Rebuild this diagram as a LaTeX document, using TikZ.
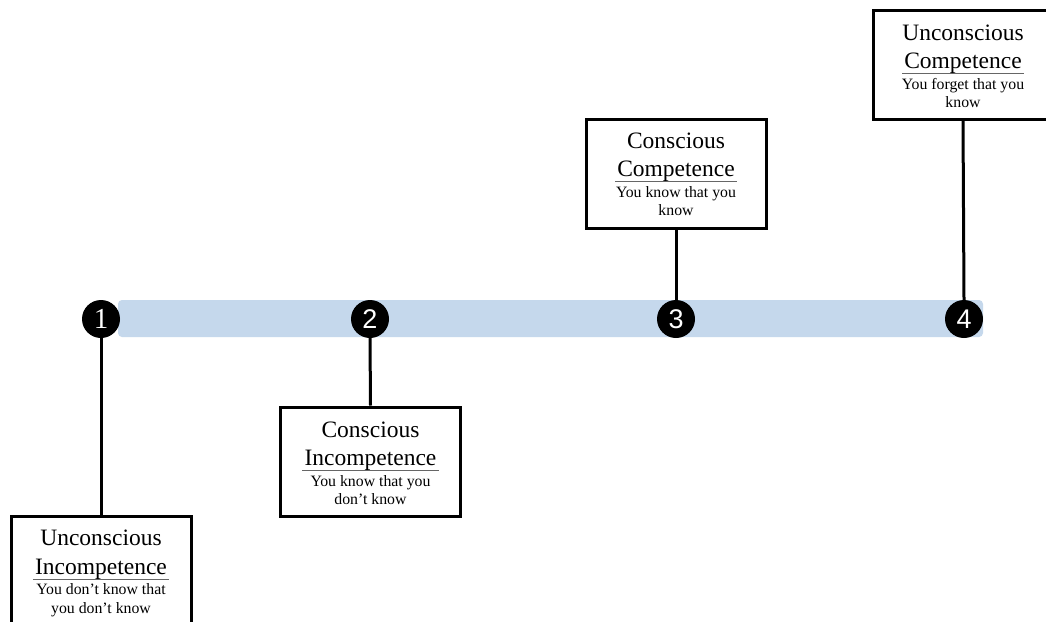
\documentclass[tikz,border=0pt]{standalone}
\usepackage{fontspec}
\setmainfont{Liberation Serif}
\newfontfamily\numsans{Liberation Sans}
\definecolor{barblue}{HTML}{C5D8EC}
\begin{document}
\begin{tikzpicture}[x=1pt,y=-1pt,
 box/.style={draw=black, line width=3pt, fill=white, minimum width=180pt, minimum height=109pt, inner sep=0pt},
 ttl/.style={anchor=base, inner sep=0pt, inner xsep=2pt, font=\fontsize{23.5}{28}\selectfont},
 sub/.style={anchor=base, inner sep=0pt, font=\fontsize{15.8}{18}\selectfont},
 uline/.style={draw=black!60, line width=1.4pt},
 conn/.style={line width=3pt},
 num/.style={circle, fill=black, minimum size=38pt, inner sep=0pt, text=white, font=\numsans\fontsize{27}{28}\selectfont},
 bar/.style={fill=barblue, rounded corners=4pt}]
\clip (0,0) rectangle (1046,621);
\fill[white] (0,0) rectangle (1046,621);
\fill[bar] (118,300) rectangle (983,337);
% boxes
\node[box] (b1) at (101,570.5) {};
\node[box] (b2) at (370.5,461.5) {};
\node[box] (b3) at (676,173.5) {};
\node[box] (b4) at (963,64.5) {};
% circles
\node[num,font=\rmfamily\fontsize{29}{29}\selectfont] (c1) at (101,319) {1};
\node[num] (c2) at (370,319) {2};
\node[num] (c3) at (676,319) {3};
\node[num] (c4) at (964,319) {4};
% connectors
\draw[conn] (c1.south) -- (b1.north);
\draw[conn] (c2.south) -- (b2.north);
\draw[conn] (c3.north) -- (b3.south);
\draw[conn] (c4.north) -- (b4.south);
% box 1 text
\node[ttl] (t1a) at (101,545) {Unconscious};
\node[ttl] (t1b) at (101,574) {Incompetence};
\draw[uline] ([yshift=-5.5pt]t1b.base west) -- ([yshift=-5.5pt]t1b.base east);
\node[sub] (s1a) at (101,594) {You don’t know that};
\node[sub] (s1b) at (101,613) {you don’t know};
% box 2 text
\node[ttl] (t2a) at (370.5,437) {Conscious};
\node[ttl] (t2b) at (370.5,465) {Incompetence};
\draw[uline] ([yshift=-5.5pt]t2b.base west) -- ([yshift=-5.5pt]t2b.base east);
\node[sub] (s2a) at (370.5,486) {You know that you};
\node[sub] (s2b) at (370.5,504) {don’t know};
% box 3 text
\node[ttl] (t3a) at (676,148) {Conscious};
\node[ttl] (t3b) at (676,176) {Competence};
\draw[uline] ([yshift=-5.5pt]t3b.base west) -- ([yshift=-5.5pt]t3b.base east);
\node[sub] (s3a) at (676,197) {You know that you};
\node[sub] (s3b) at (676,215) {know};
% box 4 text
\node[ttl] (t4a) at (963,40) {Unconscious};
\node[ttl] (t4b) at (963,68) {Competence};
\draw[uline] ([yshift=-5.5pt]t4b.base west) -- ([yshift=-5.5pt]t4b.base east);
\node[sub] (s4a) at (963,89) {You forget that you};
\node[sub] (s4b) at (963,107) {know};
\end{tikzpicture}
\end{document}
